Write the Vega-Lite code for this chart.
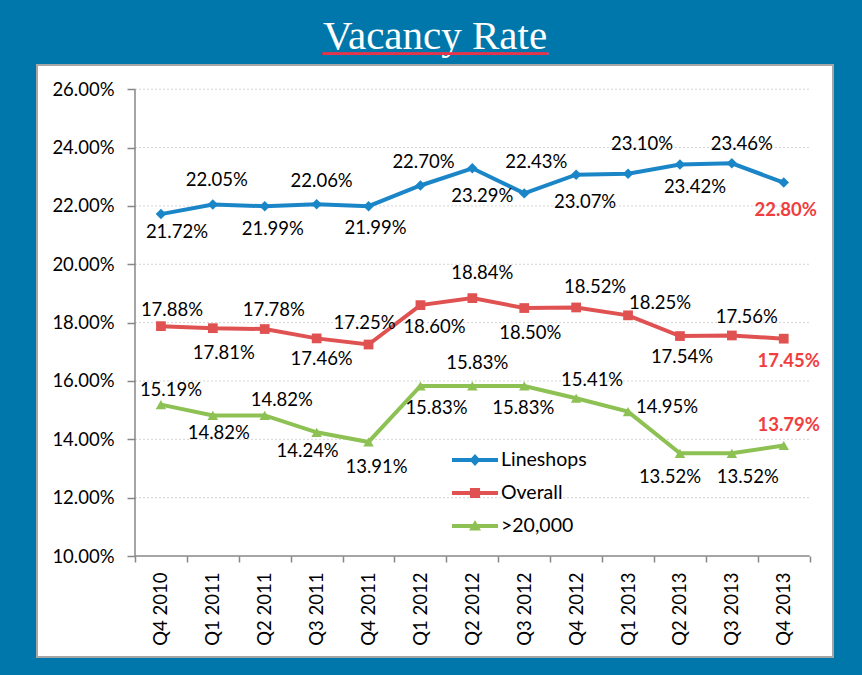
{
  "$schema": "https://vega.github.io/schema/vega-lite/v6.json",
  "width": 796,
  "height": 592,
  "autosize": {"type": "none"},
  "padding": {"left": 37, "top": 65, "right": 29, "bottom": 18},
  "background": "#0077AA",
  "title": {
    "text": "Vacancy Rate",
    "subtitle": "___________",
    "font": "Liberation Serif",
    "fontSize": 41,
    "fontWeight": "normal",
    "color": "#FFFFFF",
    "subtitleFont": "Liberation Serif",
    "subtitleFontSize": 41,
    "subtitleFontWeight": "bold",
    "subtitleColor": "#E8344A",
    "subtitlePadding": -41,
    "anchor": "middle",
    "offset": 7
  },
  "config": {
    "view": {"fill": "#FFFFFF", "stroke": "#A6A6A6", "strokeWidth": 2},
    "font": "Lato",
    "axis": {
      "labelFont": "Lato",
      "labelFontSize": 18.5,
      "labelColor": "#000000",
      "tickColor": "#878787",
      "tickWidth": 1.5,
      "domain": false,
      "grid": false
    },
    "text": {"font": "Lato", "fontSize": 18.5, "color": "#000000"}
  },
  "datasets": {
    "rates": [
      {"quarter": "Q4 2010", "series": "Lineshops", "value": 21.72},
      {"quarter": "Q1 2011", "series": "Lineshops", "value": 22.05},
      {"quarter": "Q2 2011", "series": "Lineshops", "value": 21.99},
      {"quarter": "Q3 2011", "series": "Lineshops", "value": 22.06},
      {"quarter": "Q4 2011", "series": "Lineshops", "value": 21.99},
      {"quarter": "Q1 2012", "series": "Lineshops", "value": 22.70},
      {"quarter": "Q2 2012", "series": "Lineshops", "value": 23.29},
      {"quarter": "Q3 2012", "series": "Lineshops", "value": 22.43},
      {"quarter": "Q4 2012", "series": "Lineshops", "value": 23.07},
      {"quarter": "Q1 2013", "series": "Lineshops", "value": 23.10},
      {"quarter": "Q2 2013", "series": "Lineshops", "value": 23.42},
      {"quarter": "Q3 2013", "series": "Lineshops", "value": 23.46},
      {"quarter": "Q4 2013", "series": "Lineshops", "value": 22.80},
      {"quarter": "Q4 2010", "series": "Overall", "value": 17.88},
      {"quarter": "Q1 2011", "series": "Overall", "value": 17.81},
      {"quarter": "Q2 2011", "series": "Overall", "value": 17.78},
      {"quarter": "Q3 2011", "series": "Overall", "value": 17.46},
      {"quarter": "Q4 2011", "series": "Overall", "value": 17.25},
      {"quarter": "Q1 2012", "series": "Overall", "value": 18.60},
      {"quarter": "Q2 2012", "series": "Overall", "value": 18.84},
      {"quarter": "Q3 2012", "series": "Overall", "value": 18.50},
      {"quarter": "Q4 2012", "series": "Overall", "value": 18.52},
      {"quarter": "Q1 2013", "series": "Overall", "value": 18.25},
      {"quarter": "Q2 2013", "series": "Overall", "value": 17.54},
      {"quarter": "Q3 2013", "series": "Overall", "value": 17.56},
      {"quarter": "Q4 2013", "series": "Overall", "value": 17.45},
      {"quarter": "Q4 2010", "series": ">20,000", "value": 15.19},
      {"quarter": "Q1 2011", "series": ">20,000", "value": 14.82},
      {"quarter": "Q2 2011", "series": ">20,000", "value": 14.82},
      {"quarter": "Q3 2011", "series": ">20,000", "value": 14.24},
      {"quarter": "Q4 2011", "series": ">20,000", "value": 13.91},
      {"quarter": "Q1 2012", "series": ">20,000", "value": 15.83},
      {"quarter": "Q2 2012", "series": ">20,000", "value": 15.83},
      {"quarter": "Q3 2012", "series": ">20,000", "value": 15.83},
      {"quarter": "Q4 2012", "series": ">20,000", "value": 15.41},
      {"quarter": "Q1 2013", "series": ">20,000", "value": 14.95},
      {"quarter": "Q2 2013", "series": ">20,000", "value": 13.52},
      {"quarter": "Q3 2013", "series": ">20,000", "value": 13.52},
      {"quarter": "Q4 2013", "series": ">20,000", "value": 13.79}
    ],
    "yticks": [{"v": 12}, {"v": 14}, {"v": 16}, {"v": 18}, {"v": 20}, {"v": 22}, {"v": 24}, {"v": 26}]
  },
  "data": {"name": "rates"},
  "transform": [
    {"calculate": "indexof(['Q4 2010','Q1 2011','Q2 2011','Q3 2011','Q4 2011','Q1 2012','Q2 2012','Q3 2012','Q4 2012','Q1 2013','Q2 2013','Q3 2013','Q4 2013'], datum.quarter)", "as": "idx"},
    {"calculate": "format(datum.value, '.2f') + '%'", "as": "label"}
  ],
  "layer": [
    {
      "data": {"name": "yticks"},
      "mark": {"type": "rule", "color": "#D4D4D4", "strokeDash": [2, 2], "strokeWidth": 1},
      "encoding": {
        "y": {"field": "v", "type": "quantitative"},
        "x": {"datum": -0.5, "type": "quantitative"},
        "x2": {"datum": 12.5}
      }
    },
    {
      "data": {"values": [{}]},
      "mark": {"type": "rule", "color": "#878787", "strokeWidth": 1.5},
      "encoding": {
        "x": {"datum": -0.5, "type": "quantitative"},
        "y": {"datum": 10, "type": "quantitative"},
        "y2": {"datum": 26}
      }
    },
    {
      "data": {"values": [{}]},
      "mark": {"type": "rule", "color": "#878787", "strokeWidth": 1.5},
      "encoding": {
        "y": {"datum": 10, "type": "quantitative"},
        "x": {"datum": -0.5, "type": "quantitative"},
        "x2": {"datum": 12.5}
      }
    },
    {
      "mark": {"type": "line", "strokeWidth": 4},
      "encoding": {
        "x": {
          "field": "idx", "type": "quantitative",
          "scale": {"domain": [-2.388, 12.949], "nice": false, "zero": false},
          "axis": {
            "title": null,
            "values": [-0.5, 0.5, 1.5, 2.5, 3.5, 4.5, 5.5, 6.5, 7.5, 8.5, 9.5, 10.5, 11.5, 12.5],
            "labelExpr": "datum.value > 12 ? '' : ['Q4 2010','Q1 2011','Q2 2011','Q3 2011','Q4 2011','Q1 2012','Q2 2012','Q3 2012','Q4 2012','Q1 2013','Q2 2013','Q3 2013','Q4 2013'][round(datum.value + 0.5)]",
            "labelOffset": 26,
            "labelAngle": -90,
            "labelAlign": "right",
            "labelBaseline": "middle",
            "offset": -101,
            "tickSize": 6,
            "labelPadding": 10,
            "labelOverlap": false,
            "labelFlush": false,
            "labelBound": false
          }
        },
        "y": {
          "field": "value", "type": "quantitative",
          "scale": {"domain": [6.54, 26.83], "nice": false, "zero": false},
          "axis": {
            "title": null,
            "values": [10, 12, 14, 16, 18, 20, 22, 24, 26],
            "labelExpr": "format(datum.value, '.2f') + '%'",
            "offset": -98,
            "tickSize": 8,
            "labelPadding": 13,
            "labelOverlap": false
          }
        },
        "color": {
          "field": "series", "type": "nominal",
          "scale": {"domain": ["Lineshops", "Overall", ">20,000"], "range": ["#1B86C7", "#E05252", "#8DC153"]},
          "legend": {
            "orient": "none",
            "legendX": 415,
            "legendY": 372,
            "title": null,
            "padding": 0,
            "symbolSize": 2116,
            "symbolStrokeWidth": 0,
            "labelFont": "Lato",
            "labelFontSize": 19.5,
            "labelColor": "#000000",
            "labelOffset": 3,
            "rowPadding": -11.5,
            "encode": {
              "symbols": {
                "update": {
                  "shape": {"signal": "datum.value == 'Lineshops' ? 'M-1,-0.09L1,-0.09L1,0.09L-1,0.09ZM0,-0.26L0.24,0L0,0.26L-0.24,0Z' : datum.value == 'Overall' ? 'M-1,-0.09L1,-0.09L1,0.09L-1,0.09ZM-0.22,-0.22L0.22,-0.22L0.22,0.22L-0.22,0.22Z' : 'M-1,-0.09L1,-0.09L1,0.09L-1,0.09ZM0,-0.26L0.26,0.2L-0.26,0.2Z'"},
                  "size": {"value": 2116},
                  "fill": {"scale": "color", "field": "value"},
                  "strokeWidth": {"value": 0},
                  "opacity": {"value": 1}
                }
              }
            }
          }
        }
      }
    },
    {
      "transform": [{"filter": "datum.series == 'Lineshops'"}],
      "mark": {"type": "point", "shape": "diamond", "filled": true, "opacity": 1, "size": 110, "color": "#1B86C7"},
      "encoding": {
        "x": {"field": "idx", "type": "quantitative"},
        "y": {"field": "value", "type": "quantitative"}
      }
    },
    {
      "transform": [{"filter": "datum.series == 'Overall'"}],
      "mark": {"type": "point", "shape": "square", "filled": true, "opacity": 1, "size": 95, "color": "#E05252"},
      "encoding": {
        "x": {"field": "idx", "type": "quantitative"},
        "y": {"field": "value", "type": "quantitative"}
      }
    },
    {
      "transform": [{"filter": "datum.series == '>20,000'"}],
      "mark": {"type": "point", "shape": "triangle-up", "filled": true, "opacity": 1, "size": 110, "color": "#8DC153"},
      "encoding": {
        "x": {"field": "idx", "type": "quantitative"},
        "y": {"field": "value", "type": "quantitative"}
      }
    },
    {
      "mark": {
        "type": "text",
        "dx": {"expr": "(datum.series == 'Lineshops' ? [16,4,8,5,7,3,10,12,9,14,15,10,2] : datum.series == 'Overall' ? [11,11,9,5,-4,14,10,6,19,32,2,15,5] : [10,6,17,-9,8,16,5,-1,16,39,-10,16,5])[datum.idx]"},
        "dy": {"expr": "(datum.series == 'Lineshops' ? [18,-24,23,-23,22,-24,28,-31,27,-30,23,-19,27] : datum.series == 'Overall' ? [-16,25,-19,21,-22,22,-25,25,-20,-12,21,-18,22] : [-15,18,-15,19,25,22,-23,22,-18,-5,24,24,-20])[datum.idx]"},
        "fill": {"expr": "datum.idx == 12 ? '#F03E3E' : '#000000'"},
        "fontWeight": {"expr": "datum.idx == 12 ? 'bold' : 'normal'"}
      },
      "encoding": {
        "x": {"field": "idx", "type": "quantitative"},
        "y": {"field": "value", "type": "quantitative"},
        "text": {"field": "label"}
      }
    }
  ]
}
